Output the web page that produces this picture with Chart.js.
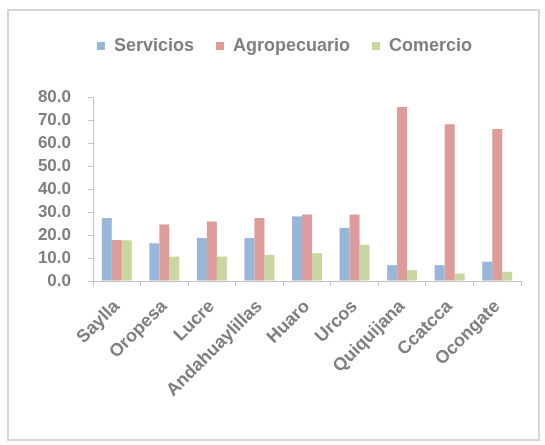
<!DOCTYPE html>
<html>
<head>
<meta charset="utf-8">
<script src="https://cdn.jsdelivr.net/npm/chart.js@4.4.0/dist/chart.umd.min.js"></script>
<style>
html,body{margin:0;padding:0;background:#fff;}
#wrap{position:relative;width:545px;height:445px;}
</style>
</head>
<body>
<div id="wrap"><canvas id="c" width="545" height="445"></canvas></div>
<script>
const categories = ["Saylla","Oropesa","Lucre","Andahuaylillas","Huaro","Urcos","Quiquijana","Ccatcca","Ocongate"];
const servicios = [27.4, 16.4, 18.7, 18.7, 28.1, 23.1, 6.9, 6.9, 8.4];
const agropecuario = [17.8, 24.6, 25.9, 27.4, 28.9, 28.9, 75.7, 68.2, 66.1];
const comercio = [17.7, 10.6, 10.6, 11.3, 12.1, 15.8, 4.7, 3.3, 4.0];
const seriesNames = ["Servicios","Agropecuario","Comercio"];
const yMin = 0, yMax = 80, yStep = 10;

const textColor = '#7f7f7f';
const axisColor = '#c4c4c4';

const framePlugin = {
  id: 'frame',
  beforeDraw(chart) {
    const ctx = chart.ctx;
    ctx.save();
    ctx.fillStyle = '#fff';
    ctx.fillRect(0, 0, chart.width, chart.height);
    ctx.strokeStyle = '#d6d6d6';
    ctx.lineWidth = 2;
    ctx.strokeRect(8, 10, 531, 430);
    ctx.restore();
  }
};

const legendTweak = {
  id: 'legendTweak',
  beforeInit(chart) {
    const origFit = chart.legend.fit;
    chart.legend.fit = function () {
      origFit.bind(chart.legend)();
      this.height += 32;
    };
  },
  afterLayout(chart) {
    chart.legend.left += 21;
    chart.legend.right += 21;
  }
};

new Chart(document.getElementById('c'), {
  type: 'bar',
  data: {
    labels: categories,
    datasets: [
      { label: seriesNames[0], data: servicios, backgroundColor: '#98b6d9' },
      { label: seriesNames[1], data: agropecuario, backgroundColor: '#dd9b99' },
      { label: seriesNames[2], data: comercio, backgroundColor: '#c6d89f' }
    ]
  },
  options: {
    responsive: false,
    animation: false,
    devicePixelRatio: 1,
    layout: { padding: { left: 6, right: 24, top: 15, bottom: 0 } },
    datasets: { bar: { barPercentage: 1.0, categoryPercentage: 0.63 } },
    plugins: {
      legend: {
        position: 'top',
        align: 'center',
        labels: {
          boxWidth: 8,
          boxHeight: 8,
          padding: 22,
          color: textColor,
          font: { family: '"Liberation Sans", Arial, sans-serif', size: 18, weight: 'bold' }
        }
      },
      tooltip: { enabled: false }
    },
    scales: {
      x: {
        grid: { display: true, drawOnChartArea: false, drawTicks: true, tickLength: 5, color: axisColor, offset: true },
        border: { display: true, color: axisColor, width: 1 },
        ticks: {
          minRotation: 45, maxRotation: 45, padding: 10, color: textColor, autoSkip: false,
          font: { family: '"Liberation Sans", Arial, sans-serif', size: 18, weight: 'bold' }
        },
        afterFit(scale) { scale.height = 164; }
      },
      y: {
        min: yMin, max: yMax,
        grid: { display: true, drawOnChartArea: false, drawTicks: true, tickLength: 5, color: axisColor },
        border: { display: true, color: axisColor, width: 1 },
        ticks: {
          stepSize: yStep, padding: 17, color: textColor, autoSkip: false,
          font: { family: '"Liberation Sans", Arial, sans-serif', size: 17, weight: 'bold' },
          callback: v => Number(v).toFixed(1)
        },
        afterFit(scale) { scale.width = 87; }
      }
    }
  },
  plugins: [framePlugin, legendTweak]
});
</script>
</body>
</html>
